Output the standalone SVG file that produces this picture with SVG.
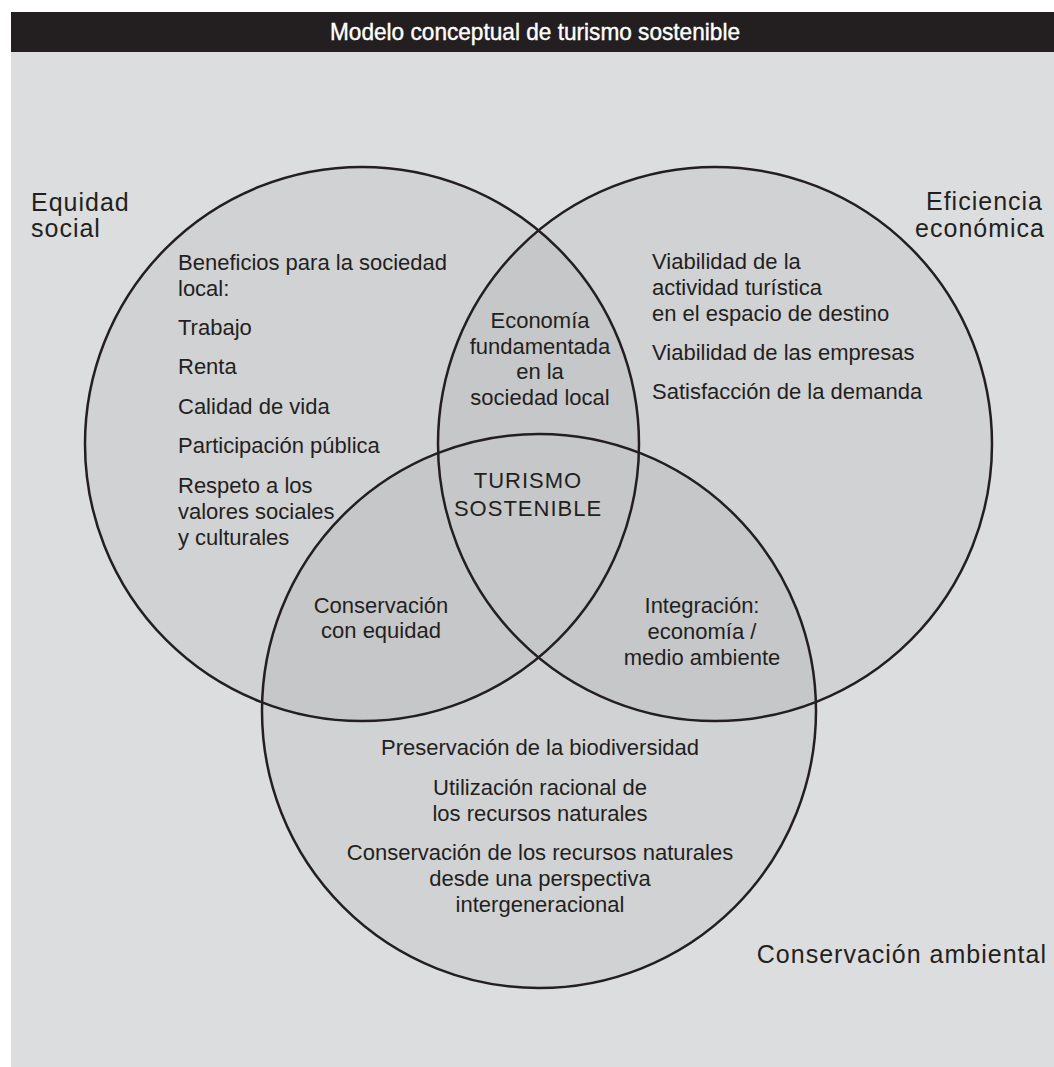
<svg xmlns="http://www.w3.org/2000/svg" width="1054" height="1067" viewBox="0 0 1054 1067">
<style>
.t{font-family:"Liberation Sans",Arial,sans-serif;font-size:22px;fill:#231f20}
.c{text-anchor:middle}
.lab{font-family:"Liberation Sans",Arial,sans-serif;font-size:25px;fill:#231f20;letter-spacing:1px}
.fill{fill:#d1d2d4}
.ov{fill:#c6c7c9}
.ring{fill:none;stroke:#231f20;stroke-width:2.5}
</style>
<defs>
<clipPath id="cL"><circle cx="362" cy="444" r="277"/></clipPath>
<clipPath id="cR"><circle cx="715" cy="444" r="277"/></clipPath>
</defs>
<rect x="0" y="0" width="1054" height="1067" fill="#ffffff"/>
<rect x="11" y="52" width="1043" height="1015" fill="#dcdddf"/>
<g id="title">
<rect x="11" y="12" width="1043" height="40" fill="#231f20"/>
<text x="535" y="40" text-anchor="middle" font-family="Liberation Sans, Arial, sans-serif" font-size="24" fill="#ffffff" stroke="#ffffff" stroke-width="0.4" textLength="410" lengthAdjust="spacingAndGlyphs">Modelo conceptual de turismo sostenible</text>
</g>
<g id="fills">
<circle class="fill" cx="362" cy="444" r="277"/>
<circle class="fill" cx="715" cy="444" r="277"/>
<circle class="fill" cx="539" cy="711" r="277"/>
<circle class="ov" cx="715" cy="444" r="277" clip-path="url(#cL)"/>
<circle class="ov" cx="539" cy="711" r="277" clip-path="url(#cL)"/>
<circle class="ov" cx="539" cy="711" r="277" clip-path="url(#cR)"/>
</g>
<g id="equidad-social">
<circle class="ring" cx="362" cy="444" r="277"/>
<text class="lab" x="31" y="211">Equidad</text>
<text class="lab" x="31" y="237">social</text>
<text class="t" x="178" y="270">Beneficios para la sociedad</text>
<text class="t" x="178" y="296">local:</text>
<text class="t" x="178" y="335">Trabajo</text>
<text class="t" x="178" y="374">Renta</text>
<text class="t" x="178" y="414">Calidad de vida</text>
<text class="t" x="178" y="453">Participación pública</text>
<text class="t" x="178" y="493">Respeto a los</text>
<text class="t" x="178" y="519">valores sociales</text>
<text class="t" x="178" y="545">y culturales</text>
</g>
<g id="eficiencia-economica">
<circle class="ring" cx="715" cy="444" r="277"/>
<text class="lab" x="1043" y="210" text-anchor="end">Eficiencia</text>
<text class="lab" x="1045" y="237" text-anchor="end">económica</text>
<text class="t" x="652" y="269">Viabilidad de la</text>
<text class="t" x="652" y="295">actividad turística</text>
<text class="t" x="652" y="321">en el espacio de destino</text>
<text class="t" x="652" y="360">Viabilidad de las empresas</text>
<text class="t" x="652" y="399">Satisfacción de la demanda</text>
</g>
<g id="conservacion-ambiental">
<circle class="ring" cx="539" cy="711" r="277"/>
<text class="lab" x="1047" y="963" text-anchor="end">Conservación ambiental</text>
<text class="t c" x="540" y="755">Preservación de la biodiversidad</text>
<text class="t c" x="540" y="795">Utilización racional de</text>
<text class="t c" x="540" y="821">los recursos naturales</text>
<text class="t c" x="540" y="860">Conservación de los recursos naturales</text>
<text class="t c" x="540" y="886">desde una perspectiva</text>
<text class="t c" x="540" y="912">intergeneracional</text>
</g>
<g id="economia-local">
<text class="t c" x="540" y="328">Economía</text>
<text class="t c" x="540" y="354">fundamentada</text>
<text class="t c" x="540" y="379">en la</text>
<text class="t c" x="540" y="405">sociedad local</text>
</g>
<g id="turismo-sostenible">
<text class="t c" x="528" y="488" font-size="24" letter-spacing="1">TURISMO</text>
<text class="t c" x="528" y="516" font-size="24" letter-spacing="1">SOSTENIBLE</text>
</g>
<g id="conservacion-equidad">
<text class="t c" x="381" y="613">Conservación</text>
<text class="t c" x="381" y="638">con equidad</text>
</g>
<g id="integracion">
<text class="t c" x="702" y="613">Integración:</text>
<text class="t c" x="702" y="639">economía /</text>
<text class="t c" x="702" y="665">medio ambiente</text>
</g>
</svg>
